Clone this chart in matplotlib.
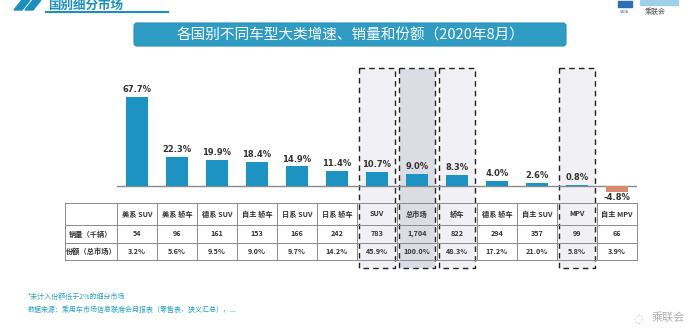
import matplotlib
matplotlib.use("Agg")
import matplotlib.pyplot as plt
from matplotlib.patches import Rectangle, FancyBboxPatch, Polygon

plt.rcParams['font.family'] = ['Noto Sans CJK SC', 'DejaVu Sans']

# 数据
categories = ['美系 SUV', '美系 轿车', '德系 SUV', '自主 轿车', '日系 SUV', '日系 轿车',
              'SUV', '总市场', '轿车', '德系 轿车', '自主 SUV', 'MPV', '自主 MPV']
growth = [67.7, 22.3, 19.9, 18.4, 14.9, 11.4, 10.7, 9.0, 8.3, 4.0, 2.6, 0.8, -4.8]
volume = ['54', '96', '161', '153', '166', '242', '783', '1,704', '822', '294', '357', '99', '66']
share = ['3.2%', '5.6%', '9.5%', '9.0%', '9.7%', '14.2%', '45.9%', '100.0%', '48.3%',
         '17.2%', '21.0%', '5.8%', '3.9%']
row_labels = ['销量（千辆）', '份额（总市场）']
boxed = ['SUV', '总市场', '轿车', 'MPV']

title = '各国别不同车型大类增速、销量和份额（2020年8月）'
teal = '#1c93c2'
W, H = 700, 333

fig = plt.figure(figsize=(W / 100, H / 100), dpi=100)

# 背景层（像素坐标）
bg = fig.add_axes([0, 0, 1, 1])
bg.set_xlim(0, W)
bg.set_ylim(H, 0)
bg.axis('off')

# 顶部栏目标题
for dx in (0, 11):
    bg.add_patch(Polygon([(22 + dx, 0), (30 + dx, 0), (22 + dx, 10), (14 + dx, 10)],
                         closed=True, color='#1a8fc0'))
bg.text(48, 5.5, '国别细分市场', color='#1a8fc0', fontsize=9, fontweight='bold', va='center')
bg.plot([46, 168], [12, 12], color='#1a8fc0', lw=1.5)
# 右上角 logo
bg.add_patch(Rectangle((618, 1), 14, 6, color='#2a6fb8'))
bg.text(620, 12, 'CADA', fontsize=2.5, color='#2a4f90', va='center')
bg.add_patch(Rectangle((640, 0), 38, 5, color='#9fd0ea'))
bg.text(645, 12, '乘联会', fontsize=5, color='#555555', va='center')

# 标题框
bg.add_patch(FancyBboxPatch((134, 23), 432, 23, boxstyle='round,pad=0,rounding_size=3',
                            facecolor='#2f9dc3', edgecolor='#2690b8', lw=0.8))
bg.text(350, 35, title, color='white', fontsize=10.5, ha='center', va='center')

# 虚线框
col_w = 40
x0 = 117
for i, c in enumerate(categories):
    if c in boxed:
        cx = x0 + col_w * (i + 0.5)
        fc = '#dcdce4' if c == '总市场' else '#f0f0f5'
        bg.add_patch(Rectangle((cx - 18, 68), 36, 200, facecolor=fc, edgecolor='#222222',
                               lw=1.0, ls=(0, (4, 3))))

# 脚注
bg.text(28, 299, '*未计入份额低于2%的细分市场', color='#27a3c4', fontsize=5)
bg.text(28, 312, '数据来源：乘用车市场信息联席会月报表（零售表，狭义汇总），...',
        color='#27a3c4', fontsize=5)
bg.text(668, 318, '乘联会', color='#b0b0b0', fontsize=8, ha='center', va='center')
bg.text(638, 318, '◌', color='#c0c0c0', fontsize=8, ha='center', va='center',
        family='DejaVu Sans')

# 柱状图
ax = fig.add_axes([x0 / W, 1 - 200 / H, 13 * col_w / W, 130 / H])
ax.patch.set_visible(False)
ax.axis('off')
ax.set_xlim(-0.5, 12.5)
ax.set_ylim(-10.7, 88.5)
xs = list(range(len(categories)))
colors = [teal if g >= 0 else '#d98a6c' for g in growth]
ax.bar(xs, growth, width=0.55, color=colors, zorder=2)
ax.axhline(0, color='#8a8a8a', lw=1.0, zorder=1)
for x, g in zip(xs, growth):
    if g >= 0:
        ax.text(x, g + 2.2, f'{g:.1f}%', ha='center', va='bottom', fontsize=6,
                fontweight='bold', color='#333333', family='DejaVu Sans')
    else:
        ax.text(x, g - 0.5, f'{g:.1f}%', ha='center', va='top', fontsize=6,
                fontweight='bold', color='#333333', family='DejaVu Sans')

# 表格
tb = fig.add_axes([65 / W, 1 - 260 / H, 572 / W, 57 / H])
tb.patch.set_visible(False)
tb.axis('off')
tb.set_xlim(-1.8, 12.5)
tb.set_ylim(57, 0)
row_edges = [0, 22, 40, 57]
col_edges = [-1.8] + [i - 0.5 for i in range(14)]
lc = '#8a8a8a'
for y in row_edges:
    tb.plot([col_edges[0], col_edges[-1]], [y, y], color=lc, lw=0.7, clip_on=False)
for x in col_edges:
    tb.plot([x, x], [0, 57], color=lc, lw=0.7, clip_on=False)

tkw = dict(ha='center', va='center', fontsize=5.2, color='#333333', fontweight='bold')
for i, c in enumerate(categories):
    tb.text(i, 11, c, **tkw)
    tb.text(i, 31, volume[i], **tkw)
    tb.text(i, 48.5, share[i], **tkw)
tb.text(-1.15, 31, row_labels[0], **tkw)
tb.text(-1.15, 48.5, row_labels[1], **tkw)

fig.savefig('out.png', dpi=100, facecolor='white')
